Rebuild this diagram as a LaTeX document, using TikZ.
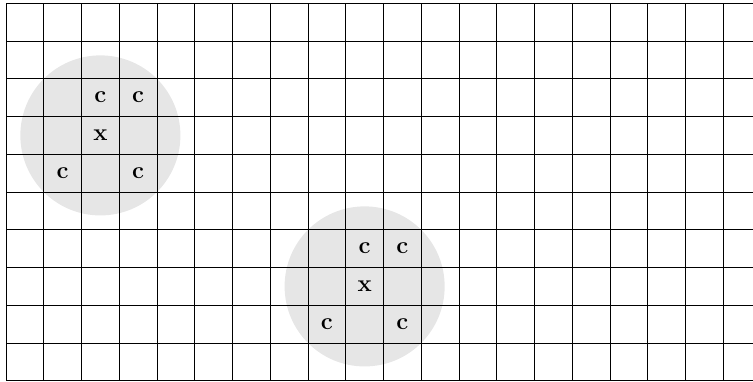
\documentclass[tikz,border=0pt]{standalone}
\usepackage{tikz}
\usepackage{xcolor}
\definecolor{zonec}{HTML}{E6E6E6}
\tikzset{
  cellgrid/.style={draw=black, line width=0.7pt},
  zone/.style={fill=zonec},
  cellmark/.style={font=\fontsize{18}{21}\selectfont\bfseries, inner sep=0pt},
}

\begin{document}
\begin{tikzpicture}[x=1cm,y=1cm]
\useasboundingbox (-0.159,-0.026) rectangle (19.788,10.087);
\fill[zone] (2.5,6.5) circle (2.12);
\fill[zone] (9.5,2.5) circle (2.12);
\draw[cellgrid] (0,0) grid (20,10);
% first neighbourhood
\node[cellmark] (xa) at (2.5,6.5) {x};
\node[cellmark] (ca1) at (2.5,7.5) {c};
\node[cellmark] (ca2) at (3.5,7.5) {c};
\node[cellmark] (ca3) at (1.5,5.5) {c};
\node[cellmark] (ca4) at (3.5,5.5) {c};
% second neighbourhood
\node[cellmark] (xb) at (9.5,2.5) {x};
\node[cellmark] (cb1) at (9.5,3.5) {c};
\node[cellmark] (cb2) at (10.5,3.5) {c};
\node[cellmark] (cb3) at (8.5,1.5) {c};
\node[cellmark] (cb4) at (10.5,1.5) {c};
\end{tikzpicture}
\end{document}
